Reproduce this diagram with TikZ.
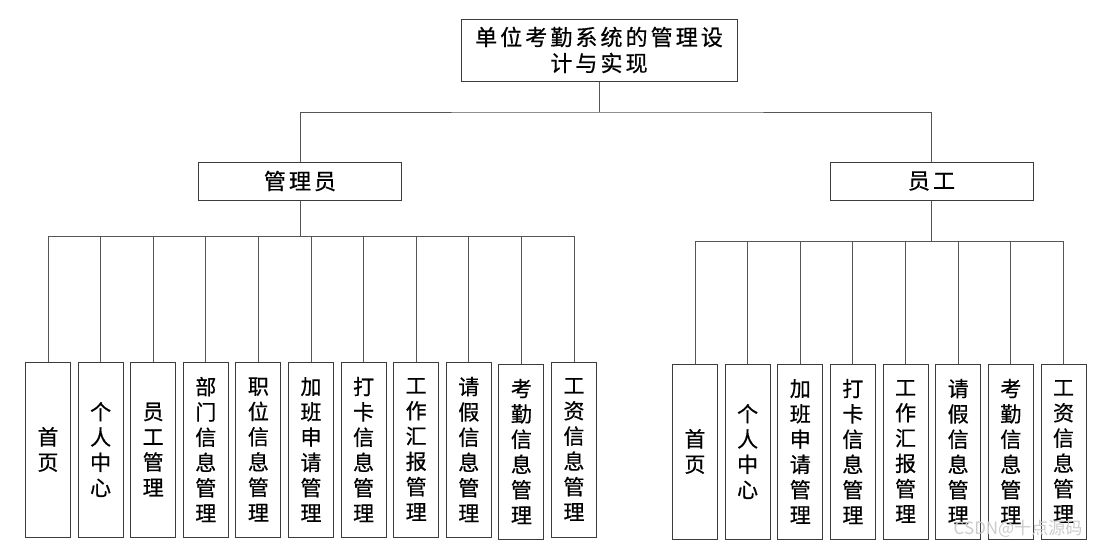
\documentclass[tikz,border=0pt]{standalone}
\usepackage{fontspec}
\newfontfamily\cjk[LetterSpace=14,FakeBold=0.6]{Noto Sans CJK SC}
\newfontfamily\cjkv[FakeBold=0.6]{Noto Sans CJK SC}
\newfontfamily\cjkw{Noto Sans CJK SC}
\definecolor{boxline}{HTML}{3C3C3C}
\definecolor{conline}{HTML}{555555}
\tikzset{
  box/.style={draw=boxline, line width=1pt, fill=white, inner sep=0pt, align=center},
  topbox/.style={box, minimum width=276pt, minimum height=62pt, font=\cjk\fontsize{22}{26}\selectfont},
  rolebox/.style={box, minimum width=203pt, minimum height=38pt, font=\cjk\fontsize{22}{26}\selectfont},
  leaf/.style={box, minimum width=45pt, minimum height=175pt, font=\cjkv\fontsize{21}{25.3}\selectfont},
  con/.style={draw=conline, line width=1pt},
  wmark/.style={text=gray!40, font=\cjkw\fontsize{17}{17}\selectfont}
}
\begin{document}
\begin{tikzpicture}[x=1pt,y=-1pt]
\useasboundingbox[fill=white] (0,0) rectangle (1100,547);
% top
\node[topbox] (top) at (599,50) {单位考勤系统的管理设\\计与实现};
\node[rolebox] (adm) at (300,181) {管理员};
\node[rolebox] (emp) at (931.5,181) {员工};
\coordinate (j0) at (599,112);
\coordinate (ja) at (300,236);
\coordinate (je) at (931.5,241);
% admin leaves
\node[leaf] (a1) at (48,449.5) {首\\页};
\node[leaf] (a2) at (100.6,449.5) {个\\人\\中\\心};
\node[leaf] (a3) at (153.2,449.5) {员\\工\\管\\理};
\node[leaf] (a4) at (205.8,449.5) {部\\门\\信\\息\\管\\理};
\node[leaf] (a5) at (258.4,449.5) {职\\位\\信\\息\\管\\理};
\node[leaf] (a6) at (311,449.5) {加\\班\\申\\请\\管\\理};
\node[leaf] (a7) at (363.6,449.5) {打\\卡\\信\\息\\管\\理};
\node[leaf] (a8) at (416.2,449.5) {工\\作\\汇\\报\\管\\理};
\node[leaf] (a9) at (468.8,449.5) {请\\假\\信\\息\\管\\理};
\node[leaf] (a10) at (521.4,451.5) {考\\勤\\信\\息\\管\\理};
\node[leaf] (a11) at (574,449.5) {工\\资\\信\\息\\管\\理};
% employee leaves
\node[leaf] (e1) at (695,451.5) {首\\页};
\node[leaf] (e2) at (747.6,451.5) {个\\人\\中\\心};
\node[leaf] (e3) at (800.3,451.5) {加\\班\\申\\请\\管\\理};
\node[leaf] (e4) at (852.9,451.5) {打\\卡\\信\\息\\管\\理};
\node[leaf] (e5) at (905.6,451.5) {工\\作\\汇\\报\\管\\理};
\node[leaf] (e6) at (958.2,451.5) {请\\假\\信\\息\\管\\理};
\node[leaf] (e7) at (1010.8,451.5) {考\\勤\\信\\息\\管\\理};
\node[leaf] (e8) at (1063.5,451.5) {工\\资\\信\\息\\管\\理};
% connectors
\draw[con] (top.south) -- (j0);
\draw[con] (adm.north) |- (j0) -| (emp.north);
\draw[con] (adm.south) -- (ja);
\foreach \i in {1,...,11} { \draw[con] (ja) -| (a\i.north); }
\draw[con] (emp.south) -- (je);
\foreach \i in {1,...,8} { \draw[con] (je) -| (e\i.north); }
% watermark
\node[wmark] (wm) at (1018,529) {CSDN@十点源码};
\end{tikzpicture}
\end{document}
